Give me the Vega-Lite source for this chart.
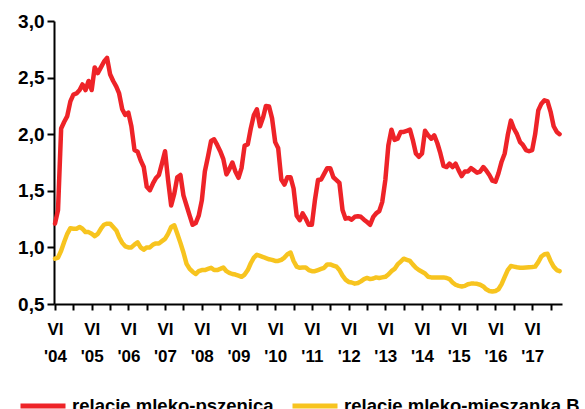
{
  "$schema": "https://vega.github.io/schema/vega-lite/v6.json",
  "width": 508,
  "height": 283,
  "autosize": {"type": "none"},
  "padding": {"left": 54, "top": 21, "right": 23, "bottom": 105},
  "background": "white",
  "data": {"values": [
    {"miesiac":"2004-06-01","pszenica":1.21,"mieszanka":0.90},
    {"miesiac":"2004-07-01","pszenica":1.33,"mieszanka":0.91},
    {"miesiac":"2004-08-01","pszenica":2.05,"mieszanka":0.97},
    {"miesiac":"2004-09-01","pszenica":2.11,"mieszanka":1.05},
    {"miesiac":"2004-10-01","pszenica":2.16,"mieszanka":1.12},
    {"miesiac":"2004-11-01","pszenica":2.29,"mieszanka":1.17},
    {"miesiac":"2004-12-01","pszenica":2.35,"mieszanka":1.165},
    {"miesiac":"2005-01-01","pszenica":2.36,"mieszanka":1.165},
    {"miesiac":"2005-02-01","pszenica":2.39,"mieszanka":1.18},
    {"miesiac":"2005-03-01","pszenica":2.44,"mieszanka":1.165},
    {"miesiac":"2005-04-01","pszenica":2.39,"mieszanka":1.135},
    {"miesiac":"2005-05-01","pszenica":2.47,"mieszanka":1.135},
    {"miesiac":"2005-06-01","pszenica":2.39,"mieszanka":1.12},
    {"miesiac":"2005-07-01","pszenica":2.59,"mieszanka":1.10},
    {"miesiac":"2005-08-01","pszenica":2.54,"mieszanka":1.12},
    {"miesiac":"2005-09-01","pszenica":2.59,"mieszanka":1.165},
    {"miesiac":"2005-10-01","pszenica":2.64,"mieszanka":1.20},
    {"miesiac":"2005-11-01","pszenica":2.675,"mieszanka":1.21},
    {"miesiac":"2005-12-01","pszenica":2.53,"mieszanka":1.21},
    {"miesiac":"2006-01-01","pszenica":2.47,"mieszanka":1.18},
    {"miesiac":"2006-02-01","pszenica":2.42,"mieszanka":1.15},
    {"miesiac":"2006-03-01","pszenica":2.36,"mieszanka":1.09},
    {"miesiac":"2006-04-01","pszenica":2.22,"mieszanka":1.04},
    {"miesiac":"2006-05-01","pszenica":2.17,"mieszanka":1.01},
    {"miesiac":"2006-06-01","pszenica":2.19,"mieszanka":1.00},
    {"miesiac":"2006-07-01","pszenica":2.07,"mieszanka":1.00},
    {"miesiac":"2006-08-01","pszenica":1.86,"mieszanka":1.025},
    {"miesiac":"2006-09-01","pszenica":1.845,"mieszanka":1.045},
    {"miesiac":"2006-10-01","pszenica":1.77,"mieszanka":1.00},
    {"miesiac":"2006-11-01","pszenica":1.71,"mieszanka":0.98},
    {"miesiac":"2006-12-01","pszenica":1.535,"mieszanka":1.00},
    {"miesiac":"2007-01-01","pszenica":1.505,"mieszanka":1.00},
    {"miesiac":"2007-02-01","pszenica":1.565,"mieszanka":1.025},
    {"miesiac":"2007-03-01","pszenica":1.61,"mieszanka":1.035},
    {"miesiac":"2007-04-01","pszenica":1.64,"mieszanka":1.035},
    {"miesiac":"2007-05-01","pszenica":1.74,"mieszanka":1.055},
    {"miesiac":"2007-06-01","pszenica":1.85,"mieszanka":1.075},
    {"miesiac":"2007-07-01","pszenica":1.595,"mieszanka":1.12},
    {"miesiac":"2007-08-01","pszenica":1.37,"mieszanka":1.18},
    {"miesiac":"2007-09-01","pszenica":1.475,"mieszanka":1.195},
    {"miesiac":"2007-10-01","pszenica":1.62,"mieszanka":1.12},
    {"miesiac":"2007-11-01","pszenica":1.64,"mieszanka":1.04},
    {"miesiac":"2007-12-01","pszenica":1.46,"mieszanka":0.955},
    {"miesiac":"2008-01-01","pszenica":1.37,"mieszanka":0.855},
    {"miesiac":"2008-02-01","pszenica":1.28,"mieszanka":0.81},
    {"miesiac":"2008-03-01","pszenica":1.20,"mieszanka":0.785},
    {"miesiac":"2008-04-01","pszenica":1.215,"mieszanka":0.765},
    {"miesiac":"2008-05-01","pszenica":1.28,"mieszanka":0.79},
    {"miesiac":"2008-06-01","pszenica":1.415,"mieszanka":0.80},
    {"miesiac":"2008-07-01","pszenica":1.67,"mieszanka":0.80},
    {"miesiac":"2008-08-01","pszenica":1.80,"mieszanka":0.81},
    {"miesiac":"2008-09-01","pszenica":1.94,"mieszanka":0.82},
    {"miesiac":"2008-10-01","pszenica":1.955,"mieszanka":0.80},
    {"miesiac":"2008-11-01","pszenica":1.905,"mieszanka":0.80},
    {"miesiac":"2008-12-01","pszenica":1.85,"mieszanka":0.81},
    {"miesiac":"2009-01-01","pszenica":1.78,"mieszanka":0.822},
    {"miesiac":"2009-02-01","pszenica":1.645,"mieszanka":0.79},
    {"miesiac":"2009-03-01","pszenica":1.69,"mieszanka":0.775},
    {"miesiac":"2009-04-01","pszenica":1.75,"mieszanka":0.765},
    {"miesiac":"2009-05-01","pszenica":1.67,"mieszanka":0.76},
    {"miesiac":"2009-06-01","pszenica":1.615,"mieszanka":0.75},
    {"miesiac":"2009-07-01","pszenica":1.70,"mieszanka":0.74},
    {"miesiac":"2009-08-01","pszenica":1.90,"mieszanka":0.76},
    {"miesiac":"2009-09-01","pszenica":1.91,"mieszanka":0.80},
    {"miesiac":"2009-10-01","pszenica":2.05,"mieszanka":0.86},
    {"miesiac":"2009-11-01","pszenica":2.17,"mieszanka":0.91},
    {"miesiac":"2009-12-01","pszenica":2.22,"mieszanka":0.935},
    {"miesiac":"2010-01-01","pszenica":2.07,"mieszanka":0.925},
    {"miesiac":"2010-02-01","pszenica":2.15,"mieszanka":0.915},
    {"miesiac":"2010-03-01","pszenica":2.25,"mieszanka":0.905},
    {"miesiac":"2010-04-01","pszenica":2.245,"mieszanka":0.895},
    {"miesiac":"2010-05-01","pszenica":2.14,"mieszanka":0.89},
    {"miesiac":"2010-06-01","pszenica":1.93,"mieszanka":0.88},
    {"miesiac":"2010-07-01","pszenica":1.875,"mieszanka":0.88},
    {"miesiac":"2010-08-01","pszenica":1.60,"mieszanka":0.89},
    {"miesiac":"2010-09-01","pszenica":1.555,"mieszanka":0.91},
    {"miesiac":"2010-10-01","pszenica":1.62,"mieszanka":0.94},
    {"miesiac":"2010-11-01","pszenica":1.62,"mieszanka":0.955},
    {"miesiac":"2010-12-01","pszenica":1.52,"mieszanka":0.88},
    {"miesiac":"2011-01-01","pszenica":1.28,"mieszanka":0.83},
    {"miesiac":"2011-02-01","pszenica":1.24,"mieszanka":0.82},
    {"miesiac":"2011-03-01","pszenica":1.30,"mieszanka":0.822},
    {"miesiac":"2011-04-01","pszenica":1.254,"mieszanka":0.822},
    {"miesiac":"2011-05-01","pszenica":1.20,"mieszanka":0.80},
    {"miesiac":"2011-06-01","pszenica":1.20,"mieszanka":0.79},
    {"miesiac":"2011-07-01","pszenica":1.415,"mieszanka":0.79},
    {"miesiac":"2011-08-01","pszenica":1.595,"mieszanka":0.80},
    {"miesiac":"2011-09-01","pszenica":1.60,"mieszanka":0.81},
    {"miesiac":"2011-10-01","pszenica":1.65,"mieszanka":0.82},
    {"miesiac":"2011-11-01","pszenica":1.70,"mieszanka":0.85},
    {"miesiac":"2011-12-01","pszenica":1.70,"mieszanka":0.85},
    {"miesiac":"2012-01-01","pszenica":1.62,"mieszanka":0.84},
    {"miesiac":"2012-02-01","pszenica":1.595,"mieszanka":0.83},
    {"miesiac":"2012-03-01","pszenica":1.57,"mieszanka":0.80},
    {"miesiac":"2012-04-01","pszenica":1.33,"mieszanka":0.75},
    {"miesiac":"2012-05-01","pszenica":1.254,"mieszanka":0.715},
    {"miesiac":"2012-06-01","pszenica":1.26,"mieszanka":0.695},
    {"miesiac":"2012-07-01","pszenica":1.245,"mieszanka":0.69},
    {"miesiac":"2012-08-01","pszenica":1.27,"mieszanka":0.68},
    {"miesiac":"2012-09-01","pszenica":1.275,"mieszanka":0.685},
    {"miesiac":"2012-10-01","pszenica":1.27,"mieszanka":0.70},
    {"miesiac":"2012-11-01","pszenica":1.245,"mieszanka":0.72},
    {"miesiac":"2012-12-01","pszenica":1.224,"mieszanka":0.73},
    {"miesiac":"2013-01-01","pszenica":1.20,"mieszanka":0.72},
    {"miesiac":"2013-02-01","pszenica":1.27,"mieszanka":0.725},
    {"miesiac":"2013-03-01","pszenica":1.30,"mieszanka":0.735},
    {"miesiac":"2013-04-01","pszenica":1.32,"mieszanka":0.73},
    {"miesiac":"2013-05-01","pszenica":1.40,"mieszanka":0.735},
    {"miesiac":"2013-06-01","pszenica":1.595,"mieszanka":0.74},
    {"miesiac":"2013-07-01","pszenica":1.90,"mieszanka":0.76},
    {"miesiac":"2013-08-01","pszenica":2.04,"mieszanka":0.79},
    {"miesiac":"2013-09-01","pszenica":1.95,"mieszanka":0.81},
    {"miesiac":"2013-10-01","pszenica":1.96,"mieszanka":0.85},
    {"miesiac":"2013-11-01","pszenica":2.02,"mieszanka":0.875},
    {"miesiac":"2013-12-01","pszenica":2.02,"mieszanka":0.90},
    {"miesiac":"2014-01-01","pszenica":2.03,"mieszanka":0.89},
    {"miesiac":"2014-02-01","pszenica":2.04,"mieszanka":0.88},
    {"miesiac":"2014-03-01","pszenica":1.95,"mieszanka":0.85},
    {"miesiac":"2014-04-01","pszenica":1.83,"mieszanka":0.82},
    {"miesiac":"2014-05-01","pszenica":1.80,"mieszanka":0.80},
    {"miesiac":"2014-06-01","pszenica":1.83,"mieszanka":0.785},
    {"miesiac":"2014-07-01","pszenica":2.03,"mieszanka":0.77},
    {"miesiac":"2014-08-01","pszenica":1.99,"mieszanka":0.74},
    {"miesiac":"2014-09-01","pszenica":1.96,"mieszanka":0.735},
    {"miesiac":"2014-10-01","pszenica":1.99,"mieszanka":0.735},
    {"miesiac":"2014-11-01","pszenica":1.92,"mieszanka":0.735},
    {"miesiac":"2014-12-01","pszenica":1.83,"mieszanka":0.735},
    {"miesiac":"2015-01-01","pszenica":1.72,"mieszanka":0.735},
    {"miesiac":"2015-02-01","pszenica":1.71,"mieszanka":0.73},
    {"miesiac":"2015-03-01","pszenica":1.74,"mieszanka":0.72},
    {"miesiac":"2015-04-01","pszenica":1.71,"mieszanka":0.69},
    {"miesiac":"2015-05-01","pszenica":1.74,"mieszanka":0.67},
    {"miesiac":"2015-06-01","pszenica":1.68,"mieszanka":0.66},
    {"miesiac":"2015-07-01","pszenica":1.63,"mieszanka":0.655},
    {"miesiac":"2015-08-01","pszenica":1.67,"mieszanka":0.66},
    {"miesiac":"2015-09-01","pszenica":1.67,"mieszanka":0.675},
    {"miesiac":"2015-10-01","pszenica":1.70,"mieszanka":0.68},
    {"miesiac":"2015-11-01","pszenica":1.68,"mieszanka":0.68},
    {"miesiac":"2015-12-01","pszenica":1.66,"mieszanka":0.678},
    {"miesiac":"2016-01-01","pszenica":1.67,"mieszanka":0.67},
    {"miesiac":"2016-02-01","pszenica":1.71,"mieszanka":0.655},
    {"miesiac":"2016-03-01","pszenica":1.68,"mieszanka":0.63},
    {"miesiac":"2016-04-01","pszenica":1.64,"mieszanka":0.615},
    {"miesiac":"2016-05-01","pszenica":1.59,"mieszanka":0.61},
    {"miesiac":"2016-06-01","pszenica":1.58,"mieszanka":0.615},
    {"miesiac":"2016-07-01","pszenica":1.655,"mieszanka":0.63},
    {"miesiac":"2016-08-01","pszenica":1.757,"mieszanka":0.675},
    {"miesiac":"2016-09-01","pszenica":1.83,"mieszanka":0.74},
    {"miesiac":"2016-10-01","pszenica":1.99,"mieszanka":0.80},
    {"miesiac":"2016-11-01","pszenica":2.12,"mieszanka":0.835},
    {"miesiac":"2016-12-01","pszenica":2.05,"mieszanka":0.83},
    {"miesiac":"2017-01-01","pszenica":2.00,"mieszanka":0.824},
    {"miesiac":"2017-02-01","pszenica":1.93,"mieszanka":0.82},
    {"miesiac":"2017-03-01","pszenica":1.905,"mieszanka":0.82},
    {"miesiac":"2017-04-01","pszenica":1.86,"mieszanka":0.822},
    {"miesiac":"2017-05-01","pszenica":1.85,"mieszanka":0.824},
    {"miesiac":"2017-06-01","pszenica":1.86,"mieszanka":0.826},
    {"miesiac":"2017-07-01","pszenica":2.00,"mieszanka":0.83},
    {"miesiac":"2017-08-01","pszenica":2.21,"mieszanka":0.87},
    {"miesiac":"2017-09-01","pszenica":2.27,"mieszanka":0.92},
    {"miesiac":"2017-10-01","pszenica":2.30,"mieszanka":0.94},
    {"miesiac":"2017-11-01","pszenica":2.29,"mieszanka":0.943},
    {"miesiac":"2017-12-01","pszenica":2.20,"mieszanka":0.88},
    {"miesiac":"2018-01-01","pszenica":2.07,"mieszanka":0.83},
    {"miesiac":"2018-02-01","pszenica":2.02,"mieszanka":0.80},
    {"miesiac":"2018-03-01","pszenica":2.00,"mieszanka":0.79}
  ]},
  "transform": [{"fold": ["pszenica", "mieszanka"], "as": ["seria", "relacja"]}],
  "mark": {"type": "line", "strokeWidth": 4.5, "strokeJoin": "round", "strokeCap": "round"},
  "encoding": {
    "x": {
      "field": "miesiac",
      "type": "temporal",
      "scale": {"type": "utc", "domain": [{"year": 2004, "month": 5, "date": 22, "utc": true}, {"year": 2018, "month": 3, "date": 25, "utc": true}]},
      "axis": {
        "title": null,
        "grid": false,
        "values": [
          {"year":2004,"month":6,"date":1,"utc":true},{"year":2004,"month":12,"date":1,"utc":true},
          {"year":2005,"month":6,"date":1,"utc":true},{"year":2005,"month":12,"date":1,"utc":true},
          {"year":2006,"month":6,"date":1,"utc":true},{"year":2006,"month":12,"date":1,"utc":true},
          {"year":2007,"month":6,"date":1,"utc":true},{"year":2007,"month":12,"date":1,"utc":true},
          {"year":2008,"month":6,"date":1,"utc":true},{"year":2008,"month":12,"date":1,"utc":true},
          {"year":2009,"month":6,"date":1,"utc":true},{"year":2009,"month":12,"date":1,"utc":true},
          {"year":2010,"month":6,"date":1,"utc":true},{"year":2010,"month":12,"date":1,"utc":true},
          {"year":2011,"month":6,"date":1,"utc":true},{"year":2011,"month":12,"date":1,"utc":true},
          {"year":2012,"month":6,"date":1,"utc":true},{"year":2012,"month":12,"date":1,"utc":true},
          {"year":2013,"month":6,"date":1,"utc":true},{"year":2013,"month":12,"date":1,"utc":true},
          {"year":2014,"month":6,"date":1,"utc":true},{"year":2014,"month":12,"date":1,"utc":true},
          {"year":2015,"month":6,"date":1,"utc":true},{"year":2015,"month":12,"date":1,"utc":true},
          {"year":2016,"month":6,"date":1,"utc":true},{"year":2016,"month":12,"date":1,"utc":true},
          {"year":2017,"month":6,"date":1,"utc":true},{"year":2017,"month":12,"date":1,"utc":true}
        ],
        "labelExpr": "utcFormat(datum.value, '%m') == '06' ? ['VI', \"'\" + utcFormat(datum.value, '%y')] : ''",
        "labelFont": "Liberation Sans",
        "labelFontWeight": "bold",
        "labelFontSize": 17,
        "labelColor": "#000000",
        "labelLineHeight": 27,
        "labelPadding": 11,
        "labelOverlap": false,
        "labelFlush": false,
        "labelBound": false,
        "domainColor": "#000000",
        "domainWidth": 2,
        "tickColor": "#000000",
        "tickWidth": 2,
        "tickSize": 6
      }
    },
    "y": {
      "field": "relacja",
      "type": "quantitative",
      "scale": {"domain": [0.5, 3.0], "nice": false, "zero": false},
      "axis": {
        "title": null,
        "grid": false,
        "values": [0.5, 1.0, 1.5, 2.0, 2.5, 3.0],
        "labelExpr": "replace(format(datum.value, '.1f'), '.', ',')",
        "labelFont": "Liberation Sans",
        "labelFontWeight": "bold",
        "labelFontSize": 19,
        "labelColor": "#000000",
        "labelPadding": 3,
        "labelFlush": false,
        "labelOverlap": false,
        "domainColor": "#000000",
        "domainWidth": 2,
        "tickColor": "#000000",
        "tickWidth": 2,
        "tickSize": 7
      }
    },
    "color": {
      "field": "seria",
      "type": "nominal",
      "sort": ["pszenica", "mieszanka"],
      "scale": {"domain": ["pszenica", "mieszanka"], "range": ["#EE2328", "#F7C41F"]},
      "legend": {
        "title": null,
        "orient": "none",
        "legendX": -36,
        "legendY": 360,
        "direction": "horizontal",
        "symbolType": "stroke",
        "symbolStrokeWidth": 5,
        "symbolSize": 2025,
        "labelExpr": "datum.label == 'pszenica' ? 'relacje mleko-pszenica' : 'relacje mleko-mieszanka B'",
        "labelFont": "Liberation Sans",
        "labelFontWeight": "bold",
        "labelFontSize": 18.5,
        "labelColor": "#000000",
        "labelLimit": 400,
        "labelOffset": 4,
        "columnPadding": 8
      }
    }
  },
  "config": {"view": {"stroke": null}, "font": "Liberation Sans"}
}
